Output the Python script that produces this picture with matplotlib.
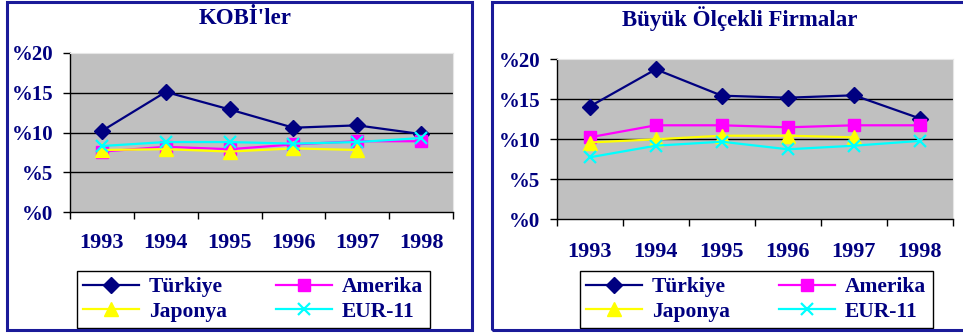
import numpy as np
from matplotlib import pyplot as plt
from matplotlib.patches import Rectangle

years = ['1993', '1994', '1995', '1996', '1997', '1998']
series_names = ['Türkiye', 'Amerika', 'Japonya', 'EUR-11']

# KOBİ'ler (%)
kobi_turkiye = [10.2, 15.1, 12.9, 10.6, 10.9, 9.8]
kobi_amerika = [7.6, 8.2, 7.9, 8.5, 8.9, 8.9]
kobi_japonya = [7.8, 7.9, 7.6, 8.0, 7.8, np.nan]
kobi_eur11 = [8.3, 8.8, 8.8, 8.6, 8.8, 9.3]

# Büyük Ölçekli Firmalar (%)
buyuk_turkiye = [14.1, 18.75, 15.45, 15.2, 15.5, 12.6]
buyuk_amerika = [10.25, 11.75, 11.75, 11.5, 11.75, 11.75]
buyuk_japonya = [9.6, 10.0, 10.45, 10.45, 10.25, np.nan]
buyuk_eur11 = [7.75, 9.2, 9.7, 8.75, 9.2, 9.8]

yticks = [0, 5, 10, 15, 20]
ytick_labels = ['%0', '%5', '%10', '%15', '%20']

navy = '#000080'
styles = [
    dict(color=navy, marker='D', markersize=8),
    dict(color='#FF00FF', marker='s', markersize=9),
    dict(color='#FFFF00', marker='^', markersize=10),
    dict(color='#00FFFF', marker='x', markersize=9, markeredgewidth=1.6),
]

plt.rcParams['font.family'] = ['Liberation Serif', 'DejaVu Serif']
plt.rcParams['font.weight'] = 'bold'

fig = plt.figure(figsize=(9.63, 3.33), dpi=100)
W, H = 963.0, 333.0

def px_rect(x0, y0, x1, y1):
    return [x0 / W, 1 - y1 / H, (x1 - x0) / W, (y1 - y0) / H]

# panel borders
for x0, y0, x1, y1 in [(7, 2, 472, 329.5), (492, 2, 968, 330)]:
    fig.patches.append(Rectangle((x0 / W, 1 - y1 / H), (x1 - x0) / W, (y1 - y0) / H,
                                 transform=fig.transFigure, fill=False,
                                 edgecolor='#1a1a99', linewidth=2.2))

def draw_panel(rect, title, title_xy, data, legend_center, label_pad):
    ax = fig.add_axes(px_rect(*rect))
    ax.set_facecolor('#C0C0C0')
    x = np.arange(len(years))
    handles = []
    for vals, st, name in zip(data, styles, series_names):
        h, = ax.plot(x, vals, linewidth=1.6, label=name, **st)
        handles.append(h)
    ax.set_xlim(-0.5, len(years) - 0.5)
    ax.set_ylim(0, 20)
    ax.set_yticks(yticks)
    ax.set_yticklabels(ytick_labels, fontsize=15, color=navy)
    ax.set_xticks(x)
    ax.set_xticklabels(years, fontsize=16, color=navy)
    ax.set_xticks(np.arange(-0.5, len(years)), minor=True)
    ax.tick_params(axis='x', which='major', length=0, pad=label_pad)
    ax.tick_params(axis='x', which='minor', length=5, width=1, direction='out')
    ax.tick_params(axis='y', length=5, width=1, direction='out', pad=7)
    for yv in yticks[1:-1]:
        ax.axhline(yv, color='black', linewidth=1, zorder=1)
    for s in ['top', 'right']:
        ax.spines[s].set_color('#e6e6e6')
    for s in ['left', 'bottom']:
        ax.spines[s].set_color('black')
        ax.spines[s].set_linewidth(1)
    fig.text(title_xy[0] / W, 1 - title_xy[1] / H, title, ha='center', va='center',
             fontsize=16.5, color=navy, fontweight='bold')
    # legend fills row by row: Türkiye, Amerika / Japonya, EUR-11
    order = [0, 2, 1, 3]
    leg = ax.legend(handles=[handles[i] for i in order], loc='center', ncol=2,
                    bbox_to_anchor=(legend_center[0] / W, 1 - legend_center[1] / H),
                    bbox_transform=fig.transFigure, fontsize=15.5, frameon=True,
                    fancybox=False, edgecolor='black', framealpha=1,
                    handlelength=2.6, handletextpad=0.45, columnspacing=2.3,
                    labelspacing=0.2, borderpad=0.3)
    leg.get_frame().set_linewidth(1)
    for t in leg.get_texts():
        t.set_color(navy)
    return ax

draw_panel((70, 53, 453, 212), "KOBİ'ler", (245, 19),
           [kobi_turkiye, kobi_amerika, kobi_japonya, kobi_eur11], (253, 299.5), 15)
draw_panel((556.7, 59.3, 953, 219.3), 'Büyük Ölçekli Firmalar', (740, 19),
           [buyuk_turkiye, buyuk_amerika, buyuk_japonya, buyuk_eur11], (756, 299.5), 16)

fig.savefig('out.png', dpi=100)
